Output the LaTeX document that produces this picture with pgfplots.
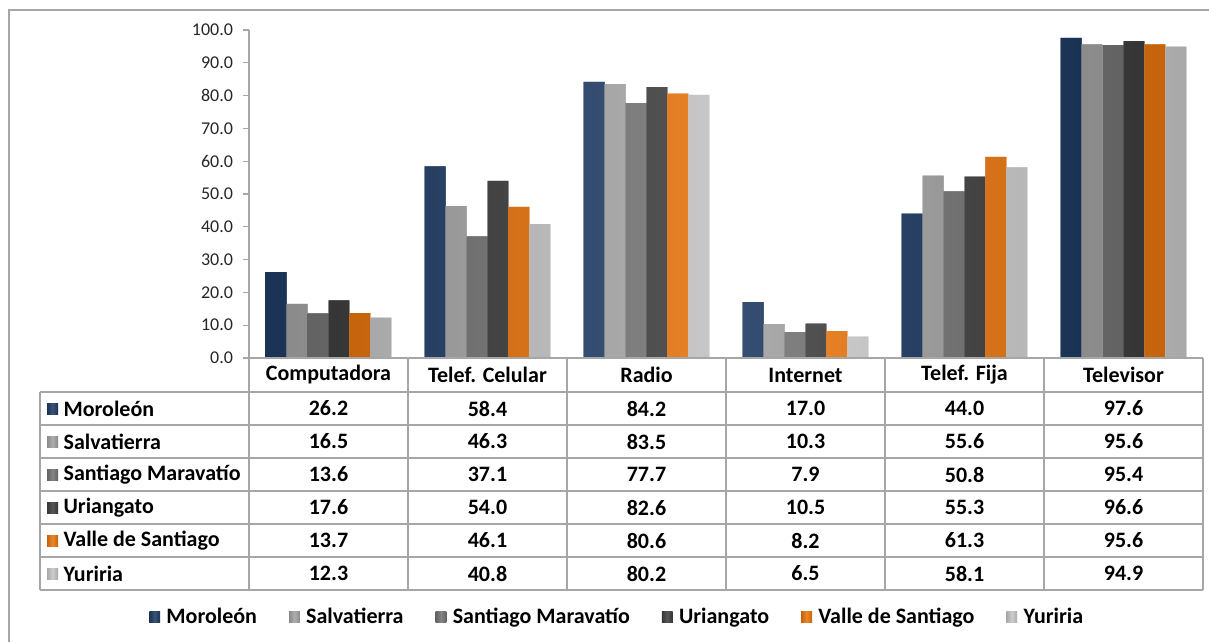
\documentclass[border=0pt]{standalone}
\usepackage{pgfplots}
\pgfplotsset{compat=1.18}
\usepackage{pgfplotstable}
\usepackage{fontspec}
\setmainfont{Carlito}

\definecolor{cMor}{HTML}{1F3B63}
\definecolor{cSal}{HTML}{A3A3A3}
\definecolor{cSan}{HTML}{747474}
\definecolor{cUri}{HTML}{3F3F3F}
\definecolor{cVal}{HTML}{E8750E}
\definecolor{cYur}{HTML}{C6C6C6}
\definecolor{linec}{HTML}{A6A6A6}

% porcentaje de viviendas con cada bien, por municipio
\pgfplotstableread{
cat Mor Sal San Uri Val Yur
0 26.2 16.5 13.6 17.6 13.7 12.3
1 58.4 46.3 37.1 54.0 46.1 40.8
2 84.2 83.5 77.7 82.6 80.6 80.2
3 17.0 10.3 7.9 10.5 8.2 6.5
4 44.0 55.6 50.8 55.3 61.3 58.1
5 97.6 95.6 95.4 96.6 95.6 94.9
}\datatable

\tikzset{barra/.style={fill=#1, draw=none, left color=#1!85!black, right color=#1!85!black, middle color=#1!88!white}}
\newcommand{\tf}{\bfseries\fontsize{11}{13}\selectfont}

\begin{document}
\begin{tikzpicture}
\begin{scope}[x=0.5pt,y=-0.5pt]
\useasboundingbox (0,0) rectangle (1209,642);
\draw[linec, line width=0.6pt] (9,642) -- (9,10) -- (1209,10);
\end{scope}

\begin{axis}[
  scale only axis,
  width=477pt, height=164pt,
  at={(124.5pt,-179pt)}, anchor=south west,
  xmin=-0.5, xmax=5.5, ymin=0, ymax=100,
  ybar=0pt, bar width=0.132,
  axis x line*=bottom, axis y line*=left,
  axis line style={linec, line width=0.6pt},
  xtick=\empty,
  ytick={0,10,...,100},
  tick align=outside, major tick length=3pt,
  tick style={linec, line width=0.6pt},
  yticklabel={\pgfmathprintnumber[fixed,fixed zerofill,precision=1]{\tick}},
  /pgf/number format/assume math mode=true,
  yticklabel style={font=\fontsize{9}{10}\selectfont, text=black!85, xshift=-1.5pt},
  every axis plot post/.append style={legend image code/.code={\fill[##1] (0pt,-2.7pt) rectangle (5.4pt,2.7pt); \path (6.6pt,0pt);}},
  legend columns=6,
  legend style={at={(0.387,-0.79)}, anchor=center, draw=none, fill=none,
    font=\tf,
    /tikz/every even column/.append style={column sep=14pt},
    /tikz/every odd column/.append style={column sep=0pt}},
]
\addplot[barra=cMor] table[x=cat,y=Mor]{\datatable};
\addplot[barra=cSal] table[x=cat,y=Sal]{\datatable};
\addplot[barra=cSan] table[x=cat,y=San]{\datatable};
\addplot[barra=cUri] table[x=cat,y=Uri]{\datatable};
\addplot[barra=cVal] table[x=cat,y=Val]{\datatable};
\addplot[barra=cYur] table[x=cat,y=Yur]{\datatable};
\legend{Moroleón, Salvatierra, Santiago Maravatío, Uriangato, Valle de Santiago, Yuriria}
\end{axis}

% tabla de datos bajo el gráfico
\begin{scope}[x=0.5pt,y=-0.5pt, line width=0.6pt]
\draw[linec] (243,358) -- (1203,358);
\foreach \y in {392,425,458,491,524,557,590} \draw[linec] (40,\y) -- (1203,\y);
\draw[linec] (40,392) -- (40,590);
\foreach \x in {249,408,567,726,885,1044,1203} \draw[linec] (\x,358) -- (\x,590);
\foreach \t [count=\i from 0] in {Computadora, Telef. Celular, Radio, Internet, Telef. Fija, Televisor}
  \node[font=\tf] at (328.5+159*\i,375) {\t};
\foreach \n/\c/\a/\b/\cc/\d/\e/\f [count=\j from 0] in {
  Moroleón/cMor/26.2/58.4/84.2/17.0/44.0/97.6,
  Salvatierra/cSal/16.5/46.3/83.5/10.3/55.6/95.6,
  Santiago Maravatío/cSan/13.6/37.1/77.7/7.9/50.8/95.4,
  Uriangato/cUri/17.6/54.0/82.6/10.5/55.3/96.6,
  Valle de Santiago/cVal/13.7/46.1/80.6/8.2/61.3/95.6,
  Yuriria/cYur/12.3/40.8/80.2/6.5/58.1/94.9}{
  \pgfmathsetmacro{\yy}{408.5+33*\j}
  \fill[barra=\c] (47,\yy-5.5) rectangle (58,\yy+5.5);
  \node[font=\tf, anchor=west, inner sep=0pt] at (63,\yy) {\n};
  \foreach \v [count=\k from 0] in {\a,\b,\cc,\d,\e,\f}
    \node[font=\tf] at (328.5+159*\k,\yy) {\v};
}
\end{scope}
\end{tikzpicture}
\end{document}
